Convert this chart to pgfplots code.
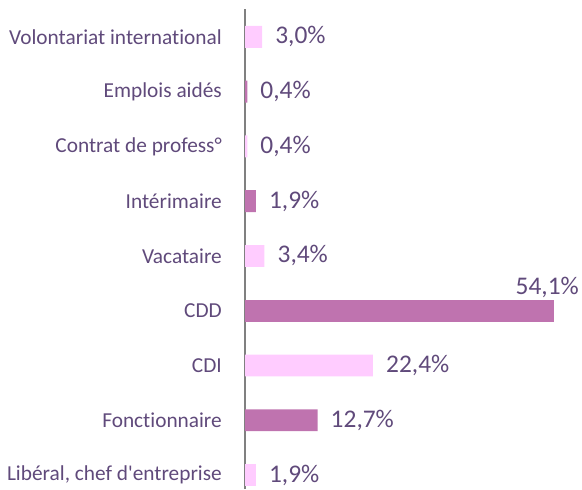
\documentclass[border=0pt]{standalone}
\usepackage{pgfplots}
\pgfplotsset{compat=1.18}
\usepackage{fontspec}
\setmainfont{Carlito}[Ligatures={TeXOff,CommonOff}]
\definecolor{txt}{RGB}{96,74,123}
\definecolor{pinkb}{RGB}{255,204,255}
\definecolor{mauve}{RGB}{191,115,175}
\begin{document}
\begin{tikzpicture}
\begin{pgfinterruptboundingbox}
\begin{axis}[
  scale only axis, width=337bp, height=480bp,
  xmin=0, xmax=59, ymin=-0.256, ymax=8.51,
  xbar, bar width=0.4, bar shift=0pt,
  axis x line=none, axis y line*=left,
  y axis line style={draw=gray, line width=2bp, -},
  xtick=\empty,
  ytick={0,...,8},
  yticklabels={{Libéral, chef d'entreprise},Fonctionnaire,CDI,CDD,Vacataire,Intérimaire,Contrat de profess°,Emplois aidés,Volontariat international},
  major tick length=0pt,
  yticklabel style={font=\fontsize{21.4}{24}\selectfont, text=txt, inner sep=0pt, xshift=-23bp},
  point meta=x,
  /pgf/number format/assume math mode=true,
  nodes near coords={\pgfmathprintnumber[fixed,fixed zerofill,precision=1,use comma]{\pgfplotspointmeta}\%},
  every node near coord/.append style={font=\fontsize{25.5}{28}\selectfont, text=txt, inner sep=0pt, anchor=west, xshift=13bp},
  clip=false,
]
\addplot[fill=pinkb, draw=none] coordinates {(3.0,8) (0.4,6) (3.4,4) (22.4,2) (1.9,0)};
\addplot[fill=mauve, draw=none] coordinates {(0.4,7) (1.9,5) (12.7,1)};
\addplot[fill=mauve, draw=none, every node near coord/.append style={anchor=south east, xshift=12bp, yshift=13bp}] coordinates {(54.1,3)};
\end{axis}
\end{pgfinterruptboundingbox}
\path (current axis.south west) ++(-245bp,0) rectangle ([yshift=9bp]current axis.north east);
\end{tikzpicture}
\end{document}
